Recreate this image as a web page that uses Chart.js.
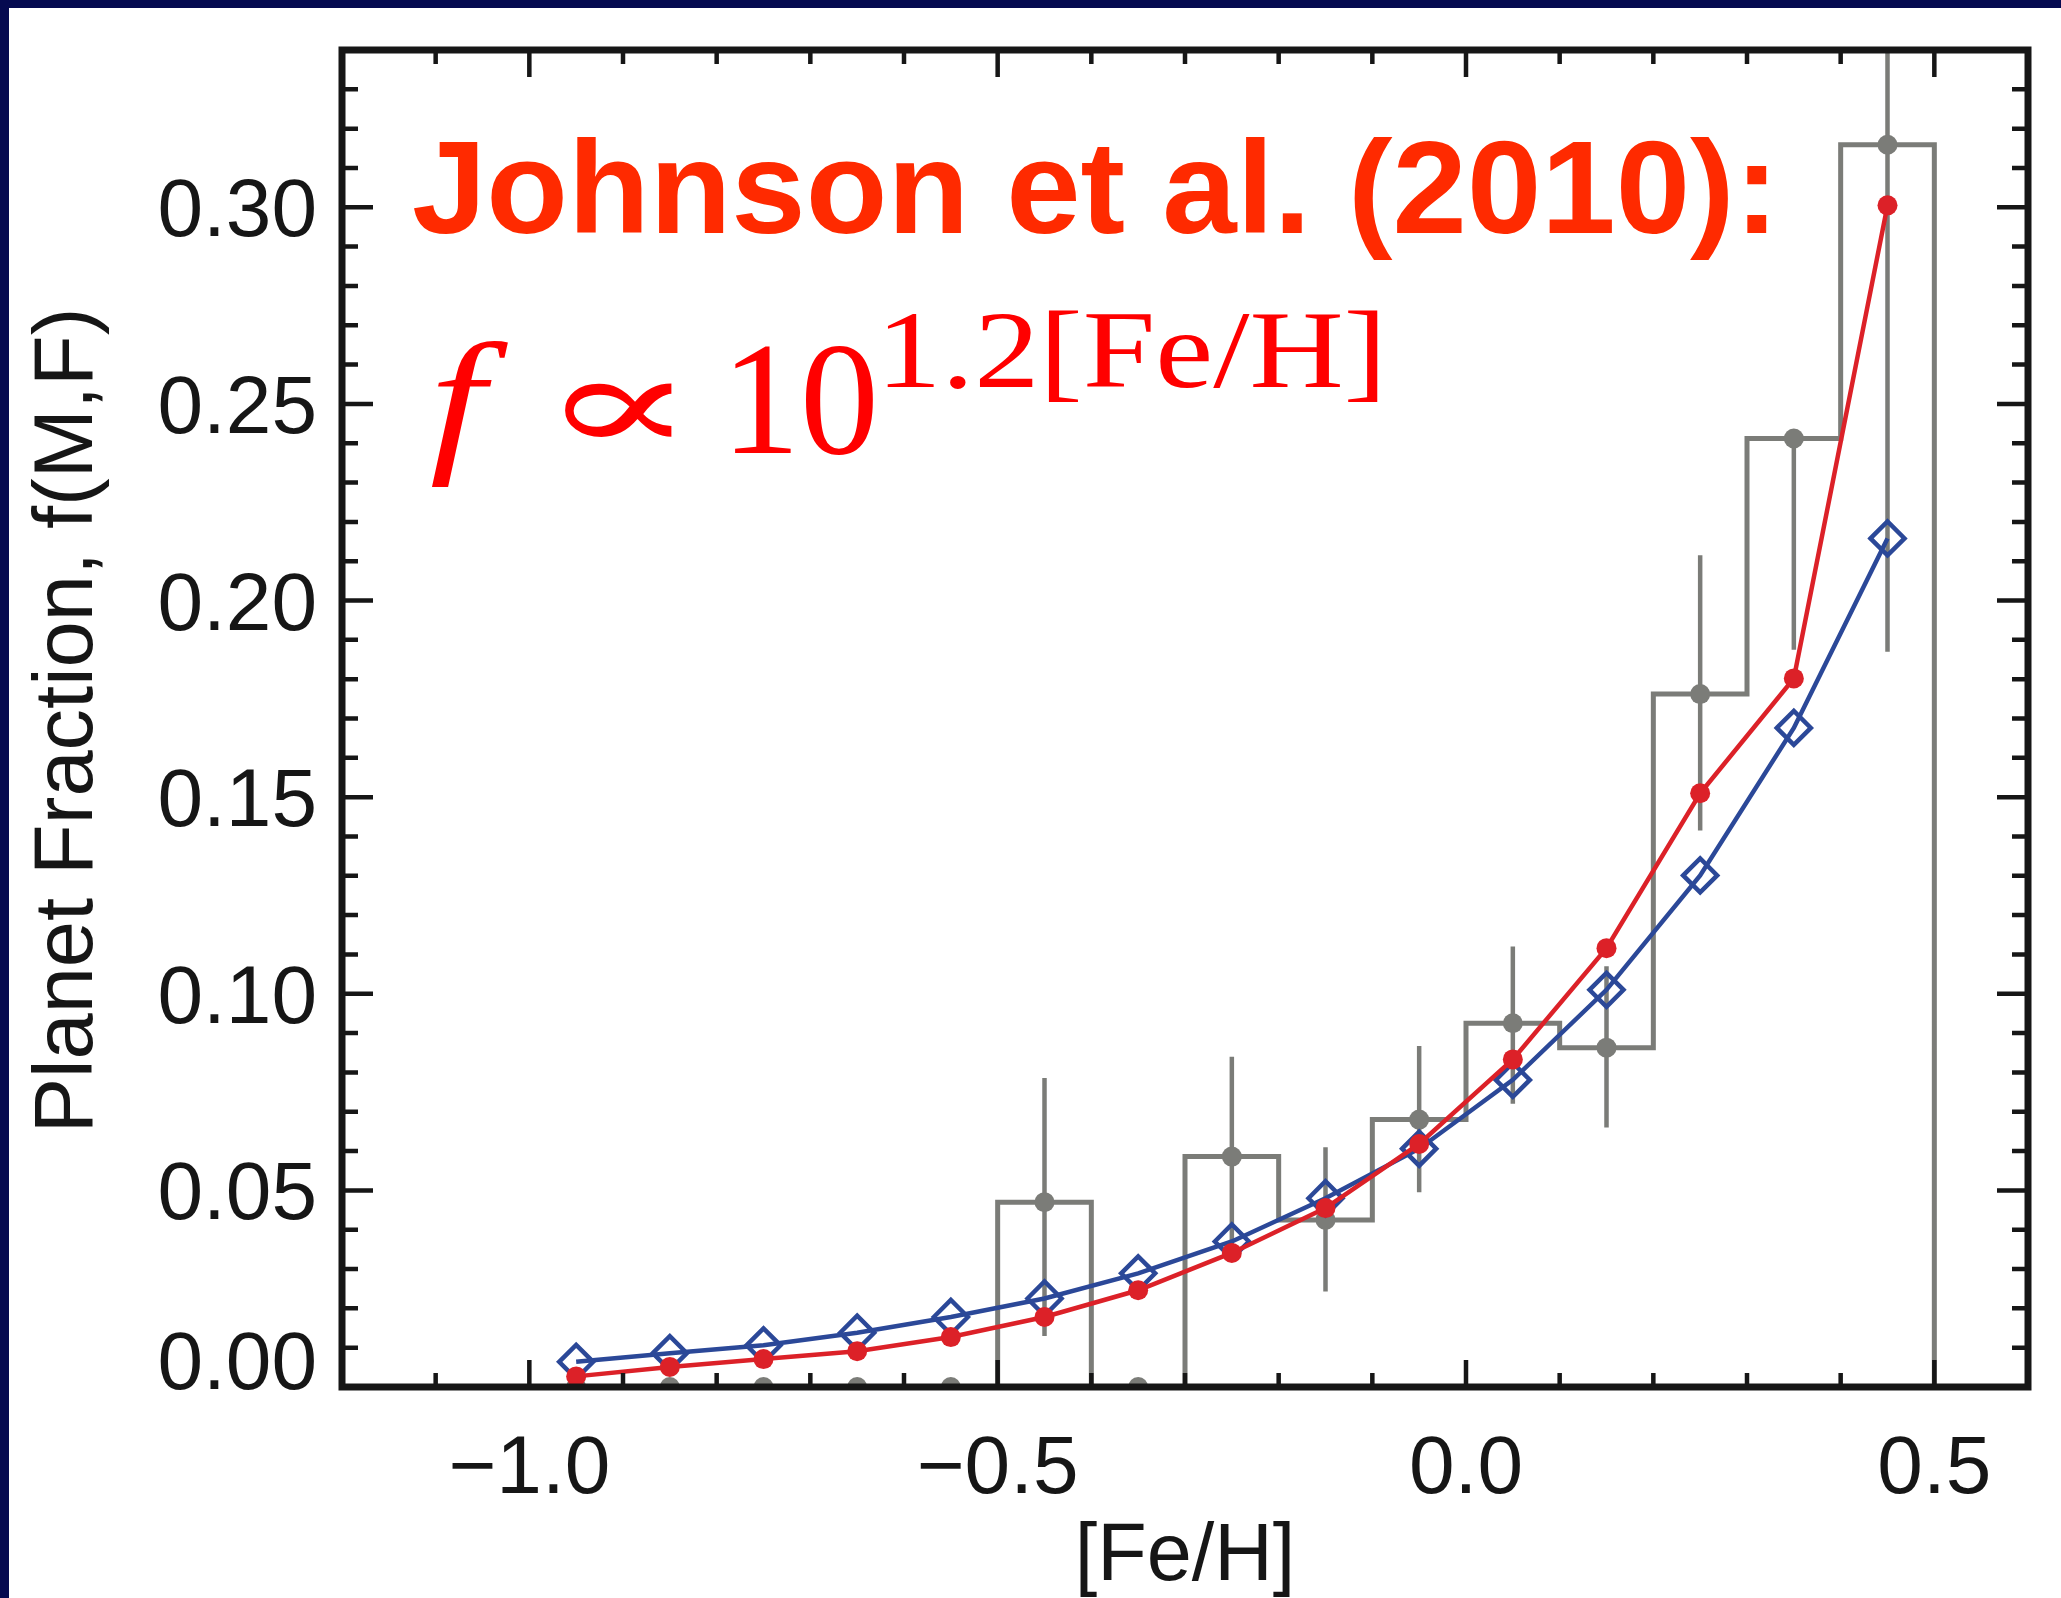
<!DOCTYPE html>
<html lang="en">
  <head>
    <meta charset="UTF-8" />
    <title>planet fraction vs [Fe/H]</title>
    <style>
      html,
      body {
        margin: 0;
        padding: 0;
        background: #050a50;
      }
      canvas {
        display: block;
      }
    </style>
  </head>
  <body>
    <canvas id="fehChart" width="2061" height="1598"></canvas>

    <script src="https://cdn.jsdelivr.net/npm/chart.js@4"></script>

    <script>
      // metallicity bins, 0.1 dex wide
      const binCenters = [-0.95, -0.85, -0.75, -0.65, -0.55, -0.45, -0.35, -0.25, -0.15, -0.05, 0.05, 0.15, 0.25, 0.35, 0.45];
      const binEdges = [-1.0, -0.9, -0.8, -0.7, -0.6, -0.5, -0.4, -0.3, -0.2, -0.1, 0.0, 0.1, 0.2, 0.3, 0.4, 0.5];

      // observed planet fraction per bin, with error bar ends
      const planetFraction = [0, 0, 0, 0, 0, 0.047, 0, 0.0586, 0.0425, 0.068, 0.0925, 0.0863, 0.1762, 0.2412, 0.3159];
      const errLow = [null, null, null, null, null, 0.013, null, 0.033, 0.0243, 0.0495, 0.072, 0.066, 0.1415, 0.1875, 0.187];
      const errHigh = [null, null, null, null, null, 0.0786, null, 0.084, 0.061, 0.0867, 0.112, 0.107, 0.2115, 0.2412, 0.445];

      // model curves evaluated at the bin centres
      const fehOnlyFit = [0.0027, 0.0051, 0.0071, 0.0091, 0.0127, 0.0178, 0.0246, 0.0341, 0.0455, 0.0618, 0.0833, 0.1116, 0.151, 0.1802, 0.3005];
      const massFehFit = [0.0064, 0.0086, 0.0106, 0.0138, 0.0178, 0.0225, 0.0289, 0.037, 0.048, 0.0606, 0.0781, 0.101, 0.1301, 0.1676, 0.2158];

      // axis ticks
      const xTickValues = [-1.0, -0.5, 0.0, 0.5];
      const xTickLabels = ["\u22121.0", "\u22120.5", "0.0", "0.5"];
      const yTickValues = [0, 0.05, 0.1, 0.15, 0.2, 0.25, 0.3];
      const yTickLabels = ["0.00", "0.05", "0.10", "0.15", "0.20", "0.25", "0.30"];

      const GRAY = "#7b7c78";
      const RED = "#dc2128";
      const BLUE = "#2b4898";
      const INK = "#161616";
      const SANS = "'Liberation Sans', Arimo, Arial, sans-serif";
      const SERIF = "'Liberation Serif', 'DejaVu Serif', serif";

      // step outline of the histogram
      const histogramSteps = planetFraction.map((f, i) => ({ x: binEdges[i], y: f }));
      histogramSteps.push({ x: binEdges[binEdges.length - 1], y: 0 });

      // vertical error segments, broken by null points
      const errorSegments = [];
      binCenters.forEach((c, i) => {
        if (errLow[i] === null) return;
        errorSegments.push({ x: c, y: errLow[i] }, { x: c, y: errHigh[i] }, { x: c, y: null });
      });

      // draws text so its ink box starts at inkLeft and spans inkWidth
      function fitInk(ctx, text, inkLeft, baseline, inkWidth) {
        const m = ctx.measureText(text);
        const ink = m.actualBoundingBoxLeft + m.actualBoundingBoxRight;
        const sx = inkWidth / ink;
        ctx.save();
        ctx.translate(inkLeft, baseline);
        ctx.scale(sx, 1);
        ctx.textAlign = "left";
        ctx.fillText(text, m.actualBoundingBoxLeft, 0);
        ctx.restore();
      }

      const frameAndLabels = {
        id: "frameAndLabels",
        beforeDraw(chart) {
          const ctx = chart.ctx;
          ctx.save();
          ctx.fillStyle = "#050a50";
          ctx.fillRect(0, 0, chart.width, chart.height);
          ctx.fillStyle = "#ffffff";
          ctx.fillRect(9, 8, chart.width - 9, chart.height - 8);
          ctx.restore();
        },
        afterDatasetsDraw(chart) {
          const { ctx, chartArea: a } = chart;
          const x = chart.scales.x;
          const y = chart.scales.y;
          ctx.save();
          ctx.strokeStyle = INK;
          ctx.lineWidth = 4.5;
          ctx.beginPath();
          // inward ticks on all four sides
          for (let i = -11; i <= 5; i++) {
            const px = x.getPixelForValue(i / 10);
            const len = i % 5 === 0 ? 27 : 14;
            ctx.moveTo(px, a.bottom);
            ctx.lineTo(px, a.bottom - len);
            ctx.moveTo(px, a.top);
            ctx.lineTo(px, a.top + len);
          }
          for (let i = 1; i <= 33; i++) {
            const py = y.getPixelForValue(i / 100);
            const len = i % 5 === 0 ? 31 : 16;
            ctx.moveTo(a.left, py);
            ctx.lineTo(a.left + len, py);
            ctx.moveTo(a.right, py);
            ctx.lineTo(a.right - len, py);
          }
          ctx.stroke();
          ctx.lineWidth = 7;
          ctx.strokeRect(a.left, a.top, a.right - a.left, a.bottom - a.top);

          // tick labels
          ctx.fillStyle = INK;
          ctx.font = "82px " + SANS;
          ctx.textBaseline = "alphabetic";
          ctx.textAlign = "right";
          yTickValues.forEach((v, i) => {
            const py = Math.min(y.getPixelForValue(v), a.bottom - 27);
            ctx.fillText(yTickLabels[i], a.left - 25, py + 29);
          });
          ctx.textAlign = "center";
          xTickValues.forEach((v, i) => {
            ctx.fillText(xTickLabels[i], x.getPixelForValue(v), a.bottom + 106);
          });

          // axis titles
          ctx.font = "81px " + SANS;
          ctx.fillText("[Fe/H]", (a.left + a.right) / 2, a.bottom + 193);
          ctx.save();
          ctx.translate(92, (a.top + a.bottom) / 2 + 2);
          ctx.rotate(-Math.PI / 2);
          ctx.font = "83px " + SANS;
          ctx.fillText("Planet Fraction, f(M,F)", 0, 0);
          ctx.restore();
          ctx.restore();
        },
        afterDraw(chart) {
          const ctx = chart.ctx;
          ctx.save();
          ctx.textBaseline = "alphabetic";
          ctx.fillStyle = "#ff2a00";
          ctx.font = "bold 132px " + SANS;
          fitInk(ctx, "Johnson et al. (2010):", 414, 233, 1353);

          ctx.fillStyle = "#ff0000";
          ctx.font = "italic 158px " + SERIF;
          fitInk(ctx, "f", 431, 453, 78);
          ctx.font = "140px " + SERIF;
          fitInk(ctx, "\u221d", 565, 452, 107);
          ctx.font = "160px " + SERIF;
          fitInk(ctx, "10", 735, 453, 138);
          ctx.font = "110px " + SERIF;
          fitInk(ctx, "1.2[Fe/H]", 887, 387, 491);
          ctx.restore();
        },
      };

      const ctx = document.getElementById("fehChart");

      new Chart(ctx, {
        type: "line",
        data: {
          datasets: [
            {
              label: "f \u221d 10^(1.2[Fe/H])",
              data: binCenters.map((c, i) => ({ x: c, y: fehOnlyFit[i] })),
              borderColor: RED,
              borderWidth: 4.5,
              pointRadius: 10,
              pointBackgroundColor: RED,
              pointBorderColor: RED,
              pointBorderWidth: 0,
              tension: 0,
            },
            {
              label: "mass and [Fe/H] fit",
              data: binCenters.map((c, i) => ({ x: c, y: massFehFit[i] })),
              borderColor: BLUE,
              borderWidth: 4.5,
              pointStyle: "rectRot",
              pointRadius: 17,
              pointBackgroundColor: "rgba(0,0,0,0)",
              pointBorderColor: BLUE,
              pointBorderWidth: 4.5,
              tension: 0,
            },
            {
              label: "planet fraction",
              data: binCenters.map((c, i) => ({ x: c, y: planetFraction[i] })),
              showLine: false,
              pointRadius: 10,
              pointBackgroundColor: GRAY,
              pointBorderColor: GRAY,
              pointBorderWidth: 0,
              clip: 0,
            },
            {
              label: "errors",
              data: errorSegments,
              borderColor: GRAY,
              borderWidth: 4.5,
              borderCapStyle: "butt",
              pointRadius: 0,
              spanGaps: false,
              clip: 0,
            },
            {
              label: "histogram",
              data: histogramSteps,
              stepped: true,
              borderColor: GRAY,
              borderWidth: 5,
              borderJoinStyle: "miter",
              pointRadius: 0,
              clip: 0,
            },
          ],
        },
        options: {
          responsive: false,
          animation: false,
          events: [],
          layout: {
            padding: { left: 342, right: 33, top: 50, bottom: 211 },
          },
          plugins: {
            legend: { display: false },
            tooltip: { enabled: false },
          },
          scales: {
            x: { type: "linear", min: -1.2, max: 0.6, display: false },
            y: { type: "linear", min: 0, max: 0.34, display: false },
          },
        },
        plugins: [frameAndLabels],
      });
    </script>
  </body>
</html>
